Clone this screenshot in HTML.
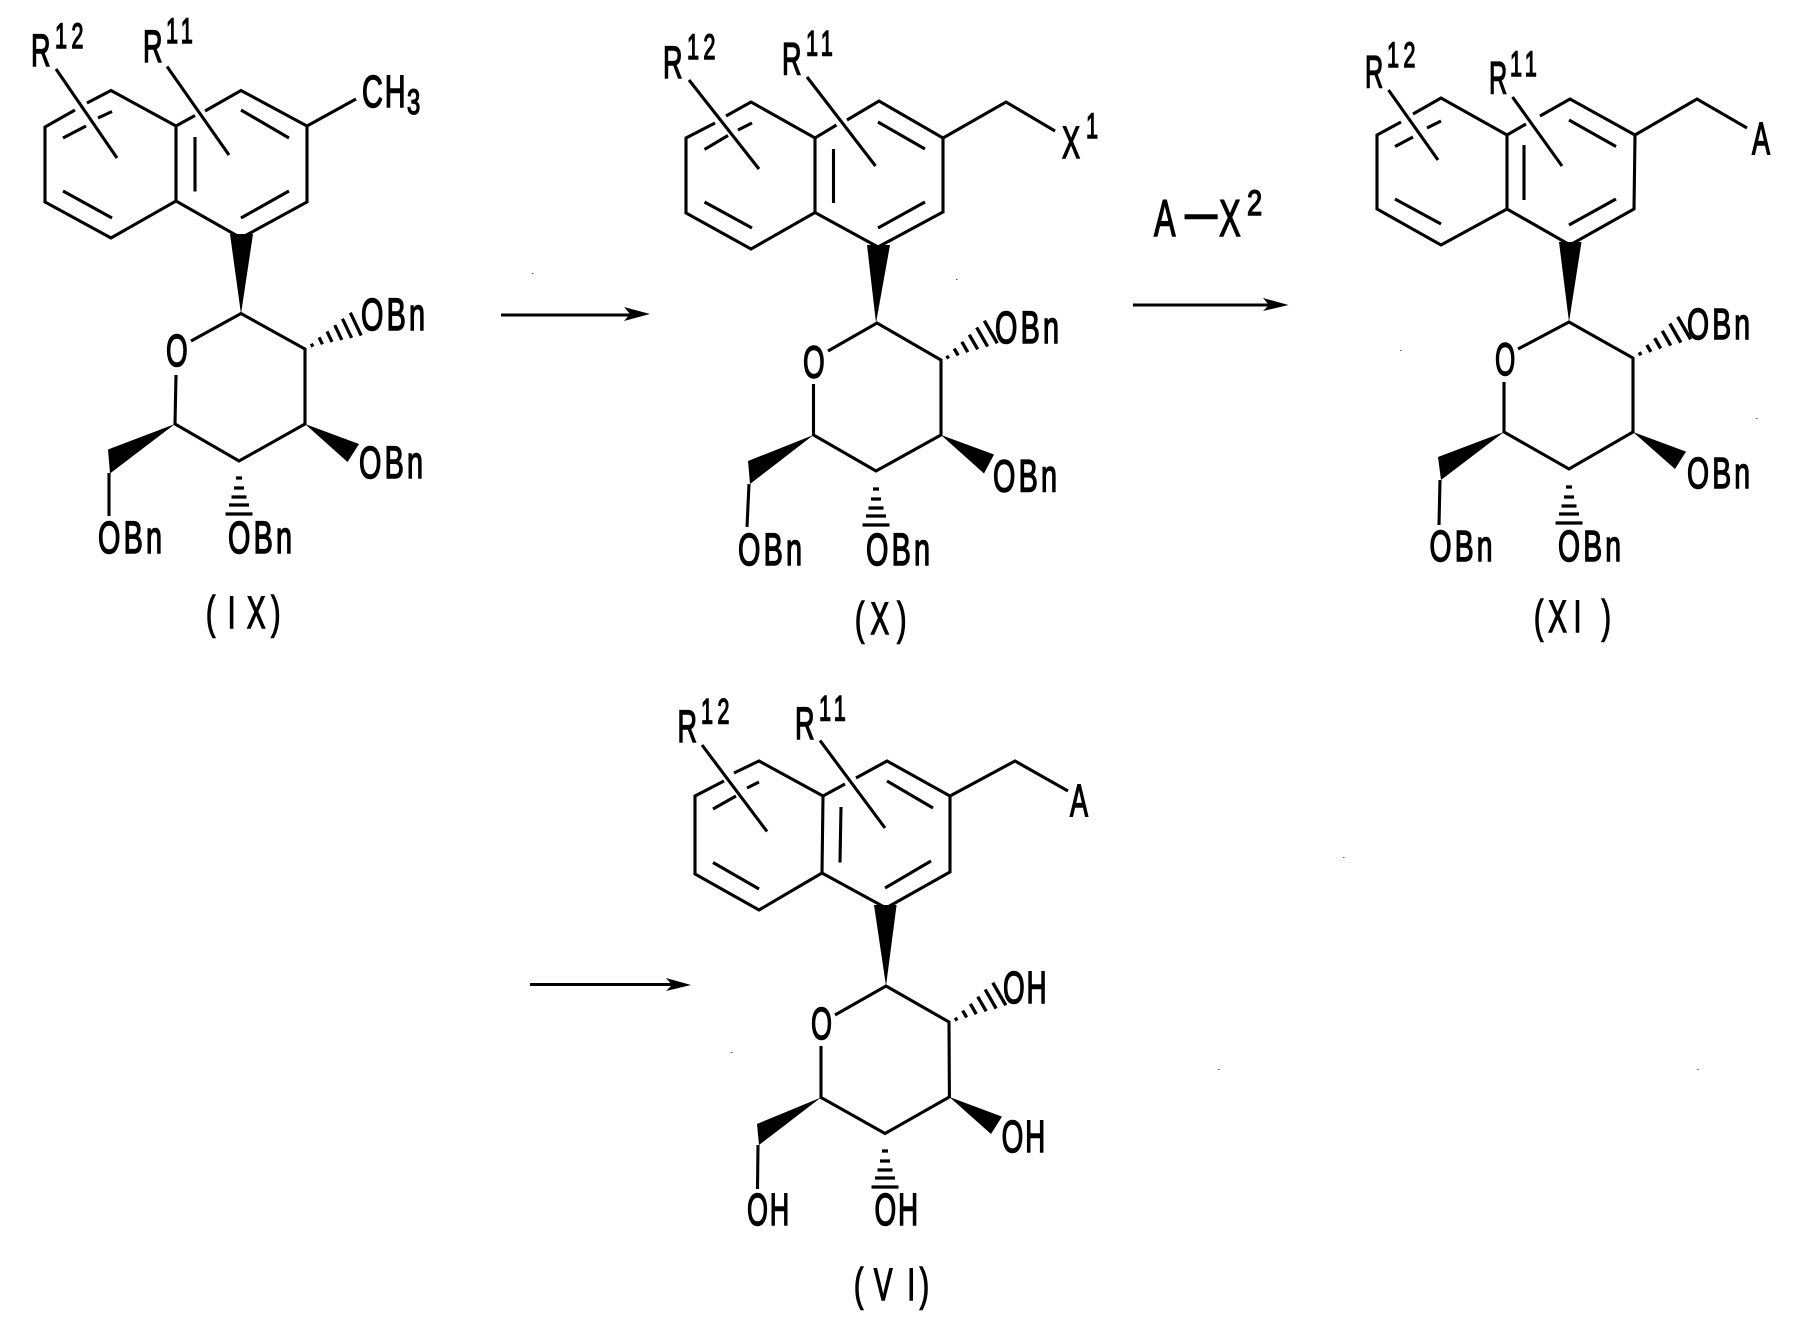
<!DOCTYPE html>
<html>
<head>
<meta charset="utf-8">
<title>Reaction scheme</title>
<style>
html,body{margin:0;padding:0;background:#fff}
svg{display:block}
.b{fill:none;stroke:#000;stroke-width:3.1;stroke-linejoin:miter;stroke-linecap:butt}
.w{fill:#000;stroke:none}
.h{stroke:#000;stroke-width:3.3;fill:none}
text{font-family:"Liberation Sans",sans-serif;fill:#000;stroke:#000}
.t{font-size:45px;stroke-width:1.5px}
.s{font-size:35px;stroke-width:1.4px}
.o{letter-spacing:5px}
.d{letter-spacing:7px}
</style>
</head>
<body>
<svg xmlns="http://www.w3.org/2000/svg" width="1807" height="1324" viewBox="0 0 1807 1324">
<defs>
<g id="hx" class="h"><path d="M0 -1.500V2M10 -4V4M20 -6V6M30 -8.500V8.500M40 -11V11M50 -13V13"/></g>
<g id="vx" class="h"><path d="M-3 0H3M-5 10H5M-7.500 19H7.500M-10 27H10M-13.500 36H13.500"/></g>
</defs>
<rect width="1807" height="1324" fill="#fff"/>

<!-- IX -->
<path class="b" d="M75 110L45 127V202L111 238L176 201L241 238L307 202V126L241 90.500L205 111M195 115.500L176 126L111 90.500L87 103M176 126V201M63 138L86 126M98 118L112 111.500M63 191L112 218M195 137V191.500M241 110L289 138M241 218L289 191M56 69L117 158M167 66.500L229 155M307 126L356 99"/>
<path class="b" d="M191 341L241 313.500L305 349V424L239 461L175 424L176 375M109 473L109 516"/>
<polygon class="w" points="230,234 253,234 241,314"/>
<polygon class="w" points="305,424 359,444 347.500,462"/>
<polygon class="w" points="175,424 108,449.500 110,473.500"/>
<use href="#hx" transform="translate(312,345) rotate(-25.500) scale(.97)"/>
<use href="#vx" transform="translate(239,478)"/>
<text class="t" transform="translate(31,66) scale(.6,1)">R</text>
<text class="s d" transform="translate(55,48) scale(.62,1)">12</text>
<text class="t" transform="translate(143,62) scale(.6,1)">R</text>
<text class="s d" transform="translate(166,43) scale(.62,1)">11</text>
<text class="t" transform="translate(362,107) scale(.64,1)" letter-spacing="3">CH</text>
<text class="s" transform="translate(407,114) scale(.68,1)">3</text>
<text class="t" transform="translate(166,366) scale(.62,1)">O</text>
<text class="t o" transform="translate(361,330) scale(.64,1)">OBn</text>
<text class="t o" transform="translate(359,478) scale(.64,1)">OBn</text>
<text class="t o" transform="translate(98,553) scale(.64,1)">OBn</text>
<text class="t o" transform="translate(228,553) scale(.64,1)">OBn</text>
<text class="t" transform="translate(206,628) scale(.62,1)" x="0 35 66 105">(IX)</text>

<!-- Arrow 1 -->
<path class="b" d="M501 315H632"/>
<polygon class="w" points="650,314 624,307 630,314 624,321"/>

<!-- X -->
<path class="b" d="M715 123L686 138V213L751 249L815 212.500L878 247L943 212V138L879 101L847 120M836.500 125L815 138L751 102L726 116M815 138V212.500M704.500 149.400L728 135.500M738 130L752 123M704.500 202L752 228M833.500 149V203M878 122L925 149M878 228L925 202M689 80L759 169M807 77L875.500 166M943 138L1006 102L1055 131"/>
<path class="b" d="M828 351L877 323L941 360V435L876 471L813.500 435V384M749 484L747 527"/>
<polygon class="w" points="867,245 890,245 876,323"/>
<polygon class="w" points="941,435 994,454.500 984,473.500"/>
<polygon class="w" points="813.500,435 748,461 750,484"/>
<use href="#hx" transform="translate(947.500,357) rotate(-30)"/>
<use href="#vx" transform="translate(876,489)"/>
<text class="t" transform="translate(663,78) scale(.6,1)">R</text>
<text class="s d" transform="translate(687,59) scale(.62,1)">12</text>
<text class="t" transform="translate(782,74.500) scale(.6,1)">R</text>
<text class="s d" transform="translate(806,55.500) scale(.62,1)">11</text>
<text class="t" transform="translate(1062,158) scale(.6,1)">X</text>
<text class="s" transform="translate(1086,138) scale(.62,1)">1</text>
<text class="t" transform="translate(803,377.500) scale(.62,1)">O</text>
<text class="t o" transform="translate(995,343) scale(.64,1)">OBn</text>
<text class="t o" transform="translate(993,491.600) scale(.64,1)">OBn</text>
<text class="t o" transform="translate(738,565) scale(.64,1)">OBn</text>
<text class="t o" transform="translate(866,565) scale(.64,1)">OBn</text>
<text class="t" transform="translate(855,634) scale(.62,1)" x="0 25 68">(X)</text>

<!-- Arrow 2 -->
<path class="b" d="M1133 305H1270"/>
<polygon class="w" points="1288.500,305 1263,298 1269,305 1263,311"/>
<text class="t" style="font-size:52px" transform="translate(1154,236) scale(.62,1)" x="0 50 105" dy="0 -6 6">A—X</text>
<text class="s" transform="translate(1247,215) scale(.78,1)">2</text>

<!-- XI -->
<path class="b" d="M1401 122L1377 135V209L1441 245L1507 209L1570 245L1634 209L1635 135L1570 99L1540 116M1526 124L1507 135L1441 98L1413 114M1507 135V209M1395 146.500L1413 137M1427 128L1441 121M1395 199L1441 224M1524 145V200M1569 120L1616 146.500M1569 225L1616 199M1388.500 90L1438 160M1512.500 97L1562 166M1635 135L1697 99L1747 128"/>
<path class="b" d="M1518 349L1569 322L1633 358V432L1569 469L1504 432V382M1440 480L1439 525"/>
<polygon class="w" points="1559,242 1581.500,242 1569,322"/>
<polygon class="w" points="1633,432 1686,451.600 1675,469"/>
<polygon class="w" points="1504,432 1438,457 1441,480"/>
<use href="#hx" transform="translate(1640,353.500) rotate(-30) scale(1.02,1)"/>
<use href="#vx" transform="translate(1569,487)"/>
<text class="t" transform="translate(1365,87.500) scale(.56,1)">R</text>
<text class="s d" transform="translate(1387,67) scale(.62,1)">12</text>
<text class="t" transform="translate(1489,93.500) scale(.56,1)">R</text>
<text class="s d" transform="translate(1510,76) scale(.62,1)">11</text>
<text class="t" transform="translate(1752,154) scale(.6,1)">A</text>
<text class="t" transform="translate(1495,375) scale(.58,1)">O</text>
<text class="t o" transform="translate(1687,339) scale(.63,.96)">OBn</text>
<text class="t o" transform="translate(1687,488) scale(.63,.96)">OBn</text>
<text class="t o" transform="translate(1429.500,561) scale(.63,.96)">OBn</text>
<text class="t o" transform="translate(1558,561) scale(.63,.96)">OBn</text>
<text class="t" transform="translate(1534,632) scale(.62,1)" x="0 23 64 109">(XI)</text>

<!-- Arrow 3 -->
<path class="b" d="M530 984.500H672"/>
<polygon class="w" points="691,985 666,978 672,985 666,991"/>

<!-- VI -->
<path class="b" d="M724 781L695 796V874L759 910L822 873L886 908L950 872V796L887 761L856 778M845 784L823 796L759 761L734 773M823 796L822 873M713 809L736 796M747 788L759 782M713 862.500L759 889M841 807L840 862.500M887 781L933 808M885 888L931 861M702 745L767 831.500M820 740.500L885 828M950 796L1015 761L1068 791"/>
<path class="b" d="M835 1015L886 986L949 1022L949.400 1097L885 1133.500L821 1097.500V1046M758 1145L757.500 1189"/>
<polygon class="w" points="874,905 896.600,905 886,986"/>
<polygon class="w" points="949.400,1097 1002,1116.600 991,1134"/>
<polygon class="w" points="821,1097.500 757,1124 759,1145"/>
<use href="#hx" transform="translate(956,1019) rotate(-30)"/>
<use href="#vx" transform="translate(885,1151)"/>
<text class="t" transform="translate(677.500,742) scale(.6,1)">R</text>
<text class="s d" transform="translate(701,723.500) scale(.62,1)">12</text>
<text class="t" transform="translate(795,739) scale(.6,1)">R</text>
<text class="s d" transform="translate(819,720.500) scale(.62,1)">11</text>
<text class="t" transform="translate(1070,816) scale(.6,1)">A</text>
<text class="t" transform="translate(811,1039) scale(.6,1)">O</text>
<text class="t" transform="translate(1003,1003) scale(.62,1)" letter-spacing="3">OH</text>
<text class="t" transform="translate(1001.600,1152) scale(.62,1)" letter-spacing="3">OH</text>
<text class="t" transform="translate(747,1225) scale(.6,1)" letter-spacing="3">OH</text>
<text class="t" transform="translate(874.500,1225) scale(.62,1)" letter-spacing="3">OH</text>
<text class="t" transform="translate(854,1300) scale(.62,1)" x="0 32 86 106">(VI)</text>

<!-- Specks -->
<g fill="#555">
<rect x="532" y="273" width="1.500" height="1"/>
<rect x="956" y="279" width="1.500" height="1"/>
<rect x="1400" y="350" width="1.500" height="1"/>
<rect x="1756" y="418" width="1.500" height="1"/>
<rect x="1343" y="857" width="1.500" height="1"/>
<rect x="1697" y="1069" width="1.500" height="1"/>
<rect x="1218" y="1069" width="1.500" height="1"/>
<rect x="731" y="1052" width="1.500" height="1"/>
</g>
</svg>
</body>
</html>
